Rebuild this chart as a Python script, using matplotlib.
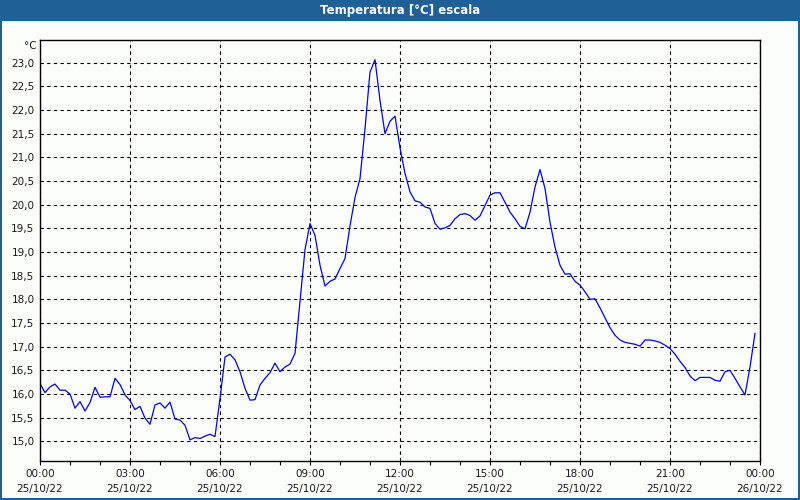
import matplotlib
matplotlib.use("Agg")
from matplotlib import pyplot as plt
from matplotlib.patches import Rectangle
import matplotlib.dates as mdates
import pandas as pd

# temperatura a cada 10 minutos, 25/10/22 00:00 -> 23:50
temperatures = [
    16.22, 16.03, 16.15, 16.21, 16.08, 16.08, 16.00, 15.70, 15.84, 15.64,
    15.82, 16.14, 15.93, 15.94, 15.94, 16.33, 16.20, 15.98, 15.86, 15.67,
    15.74, 15.49, 15.36, 15.77, 15.81, 15.70, 15.83, 15.47, 15.45, 15.34,
    15.03, 15.08, 15.06, 15.11, 15.15, 15.10, 15.90, 16.78, 16.84, 16.72,
    16.47, 16.12, 15.87, 15.88, 16.19, 16.33, 16.45, 16.65, 16.47, 16.57,
    16.63, 16.86, 17.95, 19.05, 19.60, 19.35, 18.72, 18.28, 18.38, 18.43,
    18.65, 18.86, 19.55, 20.15, 20.55, 21.60, 22.80, 23.06, 22.20, 21.50,
    21.76, 21.87, 21.20, 20.66, 20.27, 20.08, 20.05, 19.95, 19.92, 19.60,
    19.48, 19.51, 19.56, 19.70, 19.79, 19.81, 19.77, 19.67, 19.76, 19.98,
    20.20, 20.25, 20.25, 20.05, 19.84, 19.70, 19.54, 19.49, 19.84, 20.37,
    20.74, 20.34, 19.63, 19.10, 18.72, 18.53, 18.54, 18.38, 18.30, 18.16,
    18.00, 18.01, 17.82, 17.61, 17.40, 17.24, 17.14, 17.09, 17.07, 17.05,
    17.01, 17.14, 17.14, 17.12, 17.09, 17.03, 16.96, 16.84, 16.69, 16.56,
    16.38, 16.28, 16.35, 16.35, 16.35, 16.29, 16.27, 16.47, 16.50, 16.33,
    16.15, 15.98, 16.57, 17.28,
]
y_ticks = [15.0, 15.5, 16.0, 16.5, 17.0, 17.5, 18.0, 18.5, 19.0, 19.5,
           20.0, 20.5, 21.0, 21.5, 22.0, 22.5, 23.0]
title = "Temperatura [°C] escala"
unit = "°C"

times = pd.date_range("2022-10-25 00:00", periods=len(temperatures), freq="10min")
bar_color = "#1f6096"
bg_color = "#fcfefc"

fig = plt.figure(figsize=(8, 5), dpi=100, facecolor=bg_color)

# barra de titulo e bordas da janela
fig.patches.append(Rectangle((0, 1 - 20.5 / 500), 1, 20.5 / 500, transform=fig.transFigure,
                             facecolor=bar_color, edgecolor="none", zorder=0))
fig.patches.append(Rectangle((0, 0), 2 / 800, 1, transform=fig.transFigure,
                             facecolor=bar_color, edgecolor="none"))
fig.patches.append(Rectangle((798 / 800, 0), 2 / 800, 1, transform=fig.transFigure,
                             facecolor=bar_color, edgecolor="none"))
fig.patches.append(Rectangle((0, 0), 1, 2 / 500, transform=fig.transFigure,
                             facecolor=bar_color, edgecolor="none"))
fig.text(0.5, 1 - 10.5 / 500, title, color="white", fontsize=8.5, fontweight="bold",
         ha="center", va="center")

ax = fig.add_axes([40 / 800, 39.5 / 500, 720 / 800, 420.5 / 500])
ax.set_facecolor(bg_color)
ax.plot(times, temperatures, color="#0000ff", linewidth=0.9)

ax.set_xlim(pd.Timestamp("2022-10-25 00:00"), pd.Timestamp("2022-10-26 00:00"))
ax.set_ylim(14.595, 23.477)

ax.xaxis.set_major_locator(mdates.HourLocator(byhour=range(0, 24, 3)))
ax.xaxis.set_minor_locator(mdates.HourLocator())
ax.xaxis.set_major_formatter(mdates.DateFormatter("%H:%M\n%d/%m/%y"))
ax.set_yticks(y_ticks)
ax.set_yticklabels([f"{v:.1f}".replace(".", ",") for v in y_ticks])

ax.grid(True, color="black", linestyle=(0, (3, 3)), linewidth=0.8)
for spine in ax.spines.values():
    spine.set_color("black")
    spine.set_linewidth(1.0)

ax.tick_params(axis="y", length=0, pad=4, labelsize=7.5, labelcolor="#1a1a1a")
ax.tick_params(axis="x", which="both", length=3, width=0.8, direction="out",
               pad=3, labelsize=7.5, labelcolor="#1a1a1a")
for lbl in ax.get_xticklabels():
    lbl.set_linespacing(1.6)

fig.text(37 / 800, 1 - 46 / 500, unit, fontsize=7.5, color="#1a1a1a", ha="right", va="center")

plt.savefig("out.png", dpi=100, facecolor=bg_color)
plt.close()
